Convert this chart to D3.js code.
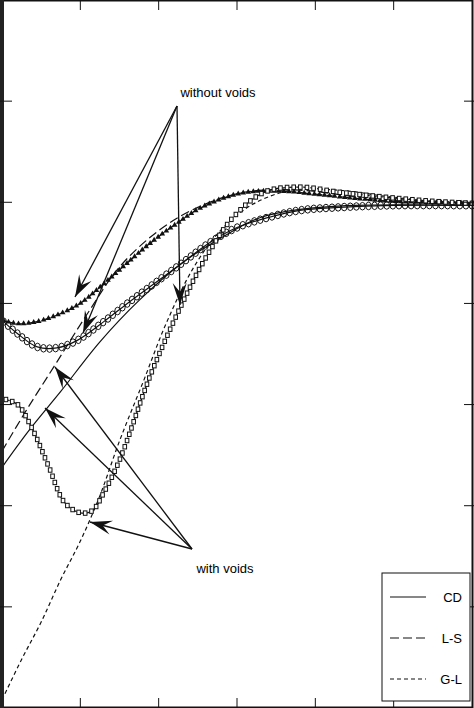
<!DOCTYPE html>
<html><head><meta charset="utf-8">
<script src="https://cdn.jsdelivr.net/npm/d3@7"></script>
<style>body{margin:0;background:#fff}text{font-family:Arial,"Liberation Sans",sans-serif;font-size:13px}</style>
</head><body><svg id="c" width="474" height="708"></svg>
<script>
// data in plot units: x 0..6, y 0..7
const xTicks = [1, 2, 3, 4, 5];
const yTicks = [1, 2, 3, 4, 5, 6];

const triWithout = [[0.02,3.83],[0.2,3.80],[0.45,3.82],[0.75,3.90],[1.0,4.0],[1.25,4.16],[1.6,4.40],[1.9,4.6],[2.25,4.8],[2.55,4.95],[3.05,5.09],[3.55,5.11],[4.0,5.08],[4.5,5.04],[5.0,5.01],[6.0,4.99]];
const circWithout = [[0.02,3.82],[0.2,3.70],[0.45,3.57],[0.7,3.56],[0.95,3.63],[1.3,3.82],[1.6,4.0],[1.95,4.2],[2.3,4.4],[2.65,4.6],[3.0,4.75],[3.4,4.85],[3.8,4.92],[4.3,4.95],[5.0,4.97],[6.0,4.97]];
const sqWithout = [[0.05,3.05],[0.2,3.0],[0.38,2.77],[0.6,2.38],[0.8,2.03],[1.0,1.93],[1.15,1.95],[1.3,2.13],[1.5,2.45],[1.9,3.3],[2.3,4.0],[2.6,4.45],[2.95,4.85],[3.35,5.1],[3.8,5.15],[4.3,5.10],[4.9,5.05],[5.5,5.01],[6.0,4.99]];
const cdWith = [[0.0,2.38],[0.35,2.75],[0.75,3.13],[1.25,3.62],[1.75,4.03],[2.3,4.40],[2.8,4.65],[3.3,4.85],[3.8,4.93],[4.5,4.97],[6.0,4.97]];
const lsWith = [[0.0,2.54],[0.3,2.93],[0.7,3.42],[1.1,3.91],[1.5,4.36],[2.0,4.72],[2.5,4.95],[3.1,5.10],[3.8,5.12],[4.6,5.05],[6.0,4.99]];
const glWith = [[0.0,0.08],[0.25,0.48],[0.5,0.85],[0.75,1.27],[1.0,1.65],[1.25,2.10],[1.5,2.64],[1.8,3.22],[2.1,3.81],[2.45,4.36],[2.8,4.73],[3.2,4.98],[3.7,5.12],[4.3,5.12],[5.0,5.05],[6.0,4.99]];

const legendItems = [["CD", null], ["L-S", "9,4"], ["G-L", "4,3"]];

const W = 474, H = 708;
const m = {left: 2, right: 2, top: 0, bottom: 0};
const x = d3.scaleLinear().domain([0, 6]).range([m.left, W - m.right]);
const y = d3.scaleLinear().domain([0, 7]).range([H - m.bottom, m.top]);
const svg = d3.select("#c");
const line = d3.line().x(d => x(d[0])).y(d => y(d[1])).curve(d3.curveCatmullRom);

function dense(pts, n) {
  // sample marker positions along the curve path
  const p = svg.append("path").attr("d", line(pts)).attr("fill", "none");
  const node = p.node(), L = node.getTotalLength(), out = [];
  for (let i = 0; i <= n; i++) { const q = node.getPointAtLength(L * i / n); out.push([q.x, q.y]); }
  p.remove();
  return out;
}

function curve(pts, dash, w) {
  svg.append("path").attr("d", line(pts)).attr("fill", "none").attr("stroke", "#111")
    .attr("stroke-width", w || 1.2).attr("stroke-dasharray", dash);
}

curve(cdWith, null);
curve(lsWith, "9,4");
curve(glWith, "4,3");
curve(triWithout, "9,4");
curve(circWithout, null);
curve(sqWithout, "4,3");

dense(circWithout, 85).forEach(p => svg.append("ellipse").attr("cx", p[0]).attr("cy", p[1])
  .attr("rx", 2.8).attr("ry", 3.8).attr("fill", "none").attr("stroke", "#111").attr("stroke-width", 1));
dense(triWithout, 100).forEach(p => svg.append("path").attr("d", d3.symbol(d3.symbolTriangle, 14)())
  .attr("transform", `translate(${p[0]},${p[1]})`).attr("fill", "#111"));
dense(sqWithout, 110).forEach(p => svg.append("rect").attr("x", p[0] - 1.8).attr("y", p[1] - 2.2)
  .attr("width", 3.6).attr("height", 4.4).attr("fill", "#fff").attr("stroke", "#111").attr("stroke-width", 1));

// annotations
function arrow(x0, y0, x1, y1) {
  svg.append("line").attr("x1", x0).attr("y1", y0).attr("x2", x1).attr("y2", y1).attr("stroke", "#111").attr("stroke-width", 1.3);
  const a = Math.atan2(y1 - y0, x1 - x0), s = 22, h = 7;
  const bx = x1 - s * Math.cos(a), by = y1 - s * Math.sin(a);
  const nx = -Math.sin(a) * h, ny = Math.cos(a) * h;
  const mx = x1 - s * 0.6 * Math.cos(a), my = y1 - s * 0.6 * Math.sin(a);
  svg.append("path").attr("d", `M${x1},${y1}L${bx + nx},${by + ny}L${mx},${my}L${bx - nx},${by - ny}Z`).attr("fill", "#111");
}
[[75, 297], [83, 333], [180, 305]].forEach(p => arrow(177, 106, p[0], p[1]));
[[55, 367], [45, 408], [90, 522]].forEach(p => arrow(192, 549, p[0], p[1]));
svg.append("text").attr("x", 218).attr("y", 97).attr("text-anchor", "middle").text("without voids");
svg.append("text").attr("x", 225).attr("y", 573).attr("text-anchor", "middle").text("with voids");

// frame and ticks
svg.append("rect").attr("x", 1.5).attr("y", 0.5).attr("width", W - 3).attr("height", H - 1)
  .attr("fill", "none").attr("stroke", "#111").attr("stroke-width", 2);
svg.append("rect").attr("x", 0).attr("y", 0).attr("width", 4).attr("height", H).attr("fill", "#222");
xTicks.forEach(t => {
  svg.append("line").attr("x1", x(t)).attr("x2", x(t)).attr("y1", 0).attr("y2", 10).attr("stroke", "#111");
  svg.append("line").attr("x1", x(t)).attr("x2", x(t)).attr("y1", H).attr("y2", H - 10).attr("stroke", "#111");
});
yTicks.forEach(t => {
  svg.append("line").attr("x1", 0).attr("x2", 12).attr("y1", y(t)).attr("y2", y(t)).attr("stroke", "#111");
  svg.append("line").attr("x1", W).attr("x2", W - 10).attr("y1", y(t)).attr("y2", y(t)).attr("stroke", "#111");
});

// legend
const lg = svg.append("g");
lg.append("rect").attr("x", 382).attr("y", 573).attr("width", 88).attr("height", 128).attr("fill", "#fff").attr("stroke", "#111");
legendItems.forEach((d, i) => {
  const yy = 597 + i * 41;
  lg.append("line").attr("x1", 390).attr("x2", 426).attr("y1", yy).attr("y2", yy).attr("stroke", "#111").attr("stroke-width", 1.2).attr("stroke-dasharray", d[1]);
  lg.append("text").attr("x", 462).attr("y", yy + 5).attr("text-anchor", "end").text(d[0]);
});
</script></body></html>
